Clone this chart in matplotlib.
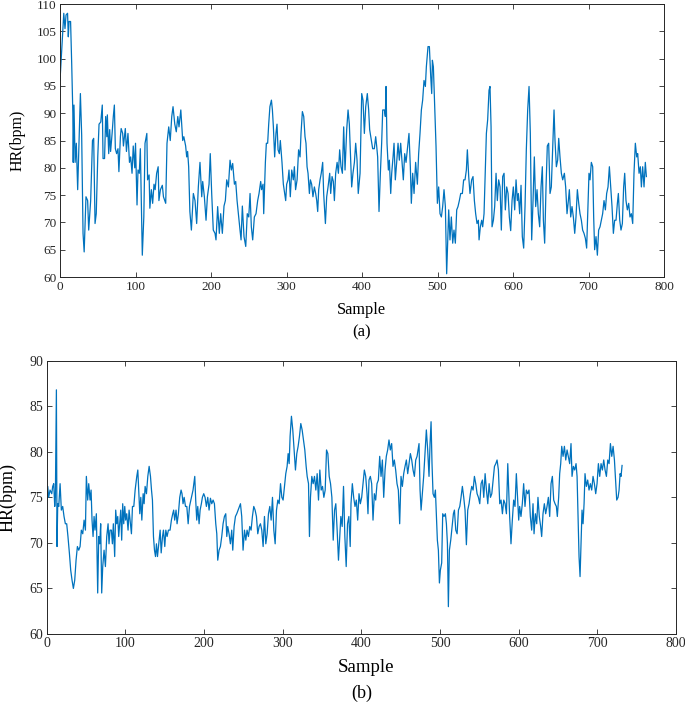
#!/usr/bin/env python3
"""
plot.py - HR series (a) and (b), MATLAB-like look
"""

import matplotlib
matplotlib.use('Agg')
import matplotlib.pyplot as plt

# ========== data ==========
# (a)
SAMPLE_A = [0, 5, 6.6, 8, 10, 11, 12, 14, 15.5, 17, 17.5, 18.5, 20, 21.6, 23.4, 25, 27, 28.7, 30.5, 32,
            34.4, 36.6, 38, 40.6, 43, 44.6, 46.4, 48, 50, 51.7, 54, 56, 57, 59, 60.5, 62, 62.7, 64.5, 65.8, 67,
            69, 70.6, 72, 73.3, 75, 76.8, 78, 80, 81, 83, 84, 86.5, 88, 90, 92, 93.6, 95.4, 97, 99, 100,
            102, 103.3, 105, 106.4, 109, 111, 112.6, 115, 116, 118, 119, 121, 122.7, 124.5, 126, 128, 130, 131, 133, 135.5,
            137, 140, 141.7, 144, 146, 148, 149.7, 152, 154, 156, 157.6, 160, 162.5, 164, 166.4, 167.8, 169, 170.4, 172, 174,
            176.6, 178.8, 181, 183.2, 185.4, 187.7, 189, 191.2, 193.4, 195.2, 197.4, 199, 200.9, 203, 205.3, 206.6, 208.8, 211, 212.8, 215,
            217.2, 219, 220.8, 223, 225.2, 227, 228.7, 231, 232.7, 234.5, 236.2, 238.4, 239.8, 241.5, 243.7, 246, 248, 250, 251.7, 253.4,
            255.2, 257.4, 259.6, 261.8, 263.6, 265.8, 267, 268.9, 269.8, 272, 273.3, 275, 276.4, 278, 280, 281.3, 282.6, 284.3, 286, 287.4,
            288.8, 290.5, 291.8, 294, 295.8, 297.6, 298.9, 300.2, 302, 303.3, 305, 306.9, 309, 310.4, 312, 314, 316, 317.9, 319.2, 321,
            322.8, 324.5, 325.8, 327.2, 328.5, 330.3, 331.6, 333.3, 335, 336.9, 338.6, 340, 341.3, 342.6, 344.4, 346, 347.9, 349.2, 351.5, 353.2,
            355, 357.2, 358.5, 360.3, 362, 363.4, 365.1, 367, 368.7, 370.4, 372.2, 374, 375.7, 377.5, 379.7, 381.5, 383.2, 384.6, 386.3, 388,
            389.9, 391.6, 393.4, 395, 397.4, 399.6, 401.3, 403.1, 404.9, 407, 408.8, 410.1, 412.4, 414.1, 416.3, 418.1, 419.4, 420.7, 422.5, 424.3,
            426, 427.4, 429.6, 430.9, 431.8, 433.1, 434.9, 436.2, 438, 439.3, 441.1, 442.4, 444.1, 445.9, 447.7, 449.4, 451.2, 453, 454.7, 456.5,
            458.3, 460.5, 462.2, 464, 465.3, 467.1, 468.9, 471, 473.3, 475, 476.8, 478.6, 480.3, 482.1, 483.9, 485.2, 487.4, 489.2, 491, 492.3,
            493.2, 494.5, 496.2, 498, 499.8, 501.5, 503.3, 505.1, 506.8, 508.6, 510.4, 512.1, 513.5, 514.8, 516.5, 518.3, 520.1, 521.8, 523.6, 525.4,
            527.1, 528.9, 530.7, 532.9, 534.6, 536.4, 538.2, 539.5, 541.3, 543, 545.2, 547, 548.8, 550.5, 552.3, 554.1, 555, 556.7, 558.5, 559.8,
            561.6, 562.9, 564.7, 566.4, 568.2, 569.5, 570.9, 572.2, 574, 575.7, 577.5, 579.2, 581, 582.8, 584.5, 586.3, 588.1, 589.8, 591.6, 593.4,
            595.1, 596.9, 598.7, 600.4, 602.2, 604, 605.7, 607, 608.8, 610.6, 612.3, 614.1, 615.9, 617.6, 619.4, 621.2, 622.9, 624.7, 626.5, 628.2,
            630, 631.8, 633.5, 635.3, 637.1, 638.8, 640.2, 641.9, 643.7, 645.4, 647.2, 649, 650.7, 652.5, 654.3, 655.6, 657.4, 659.1, 660.5, 662.2,
            664, 665.8, 668, 669.7, 671.5, 673.3, 674.6, 676.4, 678.1, 679.9, 681.7, 683.4, 685.2, 687, 688.7, 690.5, 692.2, 694, 695.8, 697.5,
            699.3, 700.6, 702, 703.7, 705.5, 706.8, 708.1, 709.9, 711.7, 713.4, 715.2, 717, 718.7, 720.5, 722.3, 724, 725.8, 727.6, 729.3, 731.1,
            732.9, 734.6, 736.4, 738.2, 739.5, 741.3, 743, 744.8, 746.5, 747.9, 749.6, 751.4, 753.2, 754.9, 756.7, 758.5, 760.2, 762, 763.8, 765.1,
            766.9, 768.6, 770, 771.7, 773.5, 775.2, 776.6]
HR_A = [96, 108.3, 105.5, 108, 108.3, 104, 106.8, 106.8, 99, 90, 81, 91.5, 81, 84.5, 76, 84, 93.6, 86, 68, 64.6,
        74.7, 74, 68.6, 74, 85, 85.4, 69.8, 71.6, 82, 88, 88.4, 91.5, 81.7, 81.7, 89.4, 85.7, 89.7, 82.6, 87, 83,
        86.3, 89.4, 91.5, 83.5, 82.6, 83.5, 79.3, 85.7, 87.2, 86.3, 84, 87.2, 83, 86.3, 81, 82, 79, 84, 80, 84.5,
        73.2, 79.6, 79, 83.5, 64, 71, 84.5, 86.3, 77.8, 78.7, 72.6, 76, 73.5, 77, 76, 79, 80.2, 74, 76, 76.8,
        74.7, 73.5, 84.5, 87.5, 85, 89.4, 91.2, 88, 86.6, 89.4, 87.5, 90.6, 85, 85.7, 84, 82, 83, 80.2, 72, 68.6,
        75.3, 74, 69.8, 76.5, 81, 74.7, 77.5, 74.7, 70.4, 74.7, 77, 82.6, 75.3, 68.6, 68, 66.8, 72.9, 68, 71.6, 68,
        73, 74, 77.8, 76.5, 81.4, 79.6, 80.8, 77, 77.5, 74, 71.6, 68.6, 66.8, 73, 67.4, 65.6, 71.6, 71, 75.3, 69.2,
        66.8, 71, 71.6, 74, 75.3, 77.5, 76, 77, 71.6, 81, 84.5, 84.5, 88, 91.2, 92.4, 90.6, 87.5, 82, 86.3, 88,
        83.3, 82.6, 85, 81, 77, 75.3, 74, 77, 77.8, 79.6, 74.7, 79.6, 77.8, 80.2, 76, 77.8, 83.3, 82, 86.3, 90.3,
        89.4, 85.7, 84.5, 80.2, 79, 75.3, 77.8, 77, 74.7, 76.5, 75.3, 74, 72, 76, 77.8, 79, 81, 75.3, 69.8, 74.7,
        76.5, 79, 75.3, 78.4, 77.5, 74, 79, 81, 79, 83.3, 80.2, 79, 87.5, 79.6, 87, 90.6, 88, 82.6, 76.5, 79,
        81, 84.5, 81.4, 75.3, 79, 93.6, 92.4, 86.3, 91.2, 93.6, 90.6, 87, 85, 83.5, 83.5, 85.7, 84, 82, 72, 79,
        84.5, 90.6, 90.6, 89.4, 94.9, 84.5, 79.6, 81.4, 75.3, 79, 82, 84.5, 77.8, 81, 84.5, 81.4, 84.5, 81, 77.8, 82.6,
        81, 84, 86.3, 80.2, 73.5, 79, 75.3, 81, 77, 82.6, 86.3, 90.6, 92.4, 96, 94.9, 98.5, 102.2, 102.2, 96.7, 93.6,
        99.7, 98.5, 91.2, 84, 73.5, 76.5, 71.6, 71, 72.9, 76, 72.9, 60.6, 66.8, 72.3, 66.8, 71, 66.2, 68.6, 66.2, 72.3,
        72.9, 74, 75.3, 75.3, 77.8, 77.8, 79.6, 83.3, 78.4, 75.3, 77.8, 78.4, 74, 71.6, 69.8, 70.4, 66.8, 69.2, 70.4, 69.2,
        71.6, 77.8, 86.3, 88.8, 94.2, 94.9, 87.5, 69.2, 70.4, 72.9, 79, 74, 77.8, 76.5, 68.6, 78.4, 79, 72.3, 76.5, 75.3,
        71, 68.5, 74, 76.5, 72.3, 77.8, 74, 75.3, 71.6, 76.8, 67.4, 65.3, 73, 83.3, 90.6, 94.9, 86.3, 66.8, 74, 82,
        72.9, 76, 71.6, 69.2, 76.5, 80.2, 70.4, 66.2, 76.5, 84, 84.5, 75.3, 76.5, 83.3, 90.6, 85, 80.2, 81.4, 85.4, 82,
        79, 77.8, 79, 76.5, 71.6, 74, 76, 71, 72.9, 71, 68, 71, 76, 73.5, 71.6, 70.4, 68.6, 68, 67.1, 65.3,
        73, 79, 77.8, 81, 80.2, 71, 65, 67.4, 64, 68.6, 69.2, 70.4, 71.6, 74, 72.3, 75.3, 76.5, 80.2, 76.5, 72.9,
        68, 70.4, 70.4, 73.5, 75.3, 70.4, 68.6, 69.8, 76.5, 79, 74, 72.3, 73.5, 71, 71.6, 69.8, 79, 84.5, 82, 82.6,
        79, 80.2, 76.5, 80.2, 76.5, 81, 78.4]

# (b)
SAMPLE_B = [0, 1.3, 2.5, 4.2, 6.4, 7.6, 8.9, 10.2, 11, 12.3, 13.1, 14, 15.3, 17, 18.6, 20.3, 22, 23.7, 25.4, 27,
            28.8, 30.5, 32.2, 33.9, 35.6, 37.3, 39, 40.7, 42.4, 44, 45.8, 47.5, 49.2, 50.4, 52.1, 53.4, 55.1, 56.4, 57.6, 58.9,
            60.2, 61.4, 63.1, 64.8, 66.1, 67.4, 68.6, 69.9, 71.2, 72.9, 74.6, 76.3, 78, 79.2, 80.5, 82.2, 83.5, 84.7, 86.4, 87.7,
            89, 90.3, 91.5, 92.8, 94.1, 95.3, 96.6, 97.9, 99.2, 100.4, 101.7, 103.4, 104.7, 106, 107.7, 109, 110.7, 112.4, 114.5, 115.8,
            117, 118.3, 119.6, 120.9, 122.6, 123.8, 125.1, 126.8, 128.5, 130.2, 131.9, 133.2, 134.4, 135.7, 137, 138.3, 139.5, 140.8, 142.5, 144.2,
            145.5, 147.2, 148.4, 150.1, 151.4, 153, 154.7, 156.8, 158.5, 160.2, 161.4, 162.7, 164.4, 165.7, 167.4, 169.1, 170.8, 172, 173.3, 174.7,
            176.4, 178.1, 179.8, 181.5, 184, 186, 188.2, 189.4, 190.7, 192, 193.7, 195, 196.6, 197.9, 199.6, 201.3, 203, 204.7, 206.4, 208.1,
            209.8, 211.5, 213.2, 214.9, 216.2, 217.4, 219.1, 220.8, 222.5, 224.2, 225.9, 227.6, 228.9, 230.1, 231.8, 233.5, 235.2, 236.5, 238.2, 239.9,
            241.6, 243.3, 245, 246.3, 247.9, 249.6, 251.4, 253.1, 254.7, 256.4, 258.1, 259.8, 261.5, 263.2, 264.9, 266.6, 268.3, 270, 271.7, 273.4,
            275.1, 276.8, 278.5, 280.2, 281.9, 283.6, 285.3, 287, 288.7, 290.4, 292.1, 293.8, 295.5, 297.2, 298.9, 300.5, 302.2, 303.9, 305.6, 306.9,
            308.2, 309.4, 311.1, 312.8, 314.5, 316.2, 317.9, 319.6, 321.3, 323, 324.7, 326.4, 328.1, 329.8, 331.1, 332.8, 334, 335.3, 337, 338.7,
            340.4, 342.1, 343.8, 345.5, 347.2, 348.9, 350.6, 352.3, 354, 355.7, 357.4, 359.1, 360.8, 362.5, 364.2, 365.9, 367.5, 369.2, 370.9, 372.6,
            373.9, 375.6, 377.3, 379, 380.7, 382.4, 384.1, 385.8, 386.8, 388.5, 390.2, 391.9, 393.6, 395.3, 397, 398.7, 400.4, 402.1, 403.8, 405.5,
            407.2, 408.4, 409.7, 411.4, 413.1, 414.8, 416.5, 418.2, 419.9, 421.6, 423.3, 425, 426.7, 428.4, 430.1, 431.7, 433.4, 435.1, 436.8, 438.5,
            440.2, 441.9, 443.6, 445.3, 447, 448.7, 450.4, 452.1, 453.8, 455.5, 457.2, 458.9, 460.6, 462.3, 464, 465.7, 467.4, 469.1, 470.8, 472,
            473.3, 474.6, 475.9, 477.5, 479.2, 480.9, 482.6, 484.3, 486, 487.3, 488.6, 489.8, 491.1, 492.8, 494.1, 495.4, 496.6, 497.9, 499.2, 500.4,
            502.1, 503.4, 505.1, 506.8, 508.1, 509.4, 510.6, 511.9, 513.6, 515.3, 517, 518.3, 520, 521.7, 523.4, 525.1, 526.7, 528.4, 530.1, 531.8,
            533.5, 535.2, 536.9, 538.6, 540.3, 542, 543.7, 545.4, 547.1, 548.8, 550.5, 552.2, 553.9, 555.6, 557.3, 559, 560.7, 562.4, 564.1, 565.8,
            567.5, 569.2, 570.9, 572.5, 574.2, 575.9, 577.6, 579.3, 581, 582.7, 584.4, 586.1, 588.5, 590.2, 591.9, 593.6, 595.3, 597, 598.7, 600,
            601.2, 602.9, 604.6, 606.3, 608, 609.7, 611.4, 613.1, 614.8, 616.5, 618.2, 619.5, 621.2, 622.9, 624.5, 626.2, 627.9, 629.2, 630.9, 632.6,
            634.3, 636, 637.7, 639.4, 641.1, 642.8, 644.5, 646.2, 647.9, 649.1, 650.8, 652.1, 653.4, 654.7, 656.4, 658.1, 659.8, 661.5, 663.1, 664.8,
            666.5, 667.8, 669.5, 671.2, 672.9, 674.2, 675.4, 676.7, 678, 679.3, 680.5, 681.8, 683.1, 684.3, 686, 687.7, 689.4, 691.1, 692.8, 694.5,
            696.2, 697.9, 699.6, 701.3, 703, 704.7, 706.4, 708.1, 709.8, 711.5, 713.2, 714.9, 716.6, 718.3, 720, 721.7, 723.4, 724.6, 726.3, 727.6,
            728.9, 730.1, 731.4]
HR_B = [74.3, 76.2, 75, 75.8, 75.4, 76.2, 76.5, 74, 75, 86.8, 69.6, 74.3, 74, 76.5, 73.6, 74, 72.9, 72.1, 72.1, 70.7,
        68.9, 67, 65.9, 65, 65.9, 68.1, 69.6, 69.2, 69.6, 71.4, 71, 72.5, 71.4, 77.3, 74.7, 76.5, 74.7, 75.8, 72.5, 70.7,
        72.9, 71.4, 73.2, 64.5, 70.7, 69.9, 72.1, 64.5, 67.4, 69.2, 67.4, 70.7, 72.1, 69.9, 71.4, 71.4, 69.9, 72.1, 68.5, 73.6,
        72.1, 72.9, 70.7, 72.1, 73.6, 70.3, 74.3, 72.1, 74, 72.5, 73.2, 71.4, 73.6, 72.5, 71, 74, 74, 75.8, 77.3, 78,
        75.8, 73.2, 75, 72.5, 75.4, 74.3, 76.2, 75.4, 77.3, 78.4, 77.3, 75.8, 74.7, 70.7, 69.2, 68.5, 69.9, 68.5, 69.9, 71.4,
        68.9, 70.7, 71.4, 69.6, 71.4, 70.7, 71.4, 71.4, 72.5, 73.2, 73.6, 72.5, 73.6, 72.1, 73.2, 75, 75.8, 75.4, 74.3, 75,
        74, 74, 72.1, 74, 75, 75.8, 77.3, 74.7, 72.5, 74, 72.1, 73.6, 74.3, 75, 75.4, 75, 74, 75, 73.6, 74.9,
        74.3, 74.7, 74.3, 72.1, 71, 68.1, 69.2, 69.6, 70.7, 72.1, 72.9, 73.2, 70.7, 71.8, 71, 69.9, 71.4, 69.2, 71.8, 72.9,
        73.2, 73.6, 74, 74.3, 72.9, 69.2, 71.4, 70.3, 71.4, 70.7, 71.8, 71.4, 72.9, 74, 73.6, 72.9, 71, 71.8, 72.1, 71.4,
        69.6, 72.9, 69.9, 71, 73.2, 74, 72.5, 75, 71.4, 69.9, 73.6, 74.7, 74.3, 76.5, 75, 74.7, 76.2, 77.6, 78.4, 79.8,
        78.7, 81.7, 83.9, 82.4, 80.2, 78, 79.8, 80.6, 81.7, 83.1, 82.4, 81.3, 80.2, 78.4, 77.3, 76.5, 70.7, 75, 77.3, 76.5,
        77.3, 75.8, 77.6, 74.7, 78, 75.8, 76.2, 75, 75.8, 80.2, 79.8, 77.3, 76.5, 75, 70.3, 73.6, 74.3, 71.4, 68.1, 70.7,
        72.9, 71.8, 76.2, 70.7, 67.4, 72.1, 72.9, 69.6, 74.3, 76.5, 75, 74, 74.7, 72.5, 75.4, 74.3, 75, 76.5, 78, 77.3,
        75.4, 73.2, 76.9, 77.3, 76.5, 72.5, 75.4, 74.7, 76.5, 76.9, 79.5, 77.3, 79.1, 75, 78, 79.5, 80.2, 81.3, 80.2, 80.9,
        78.4, 79.1, 78, 76.5, 75.8, 72.1, 77.3, 76.2, 77.6, 78.4, 79.1, 77.6, 78.7, 79.8, 79.1, 78, 77.3, 79.1, 79.5, 80.2,
        80.9, 75.8, 73.6, 75.4, 77.3, 79.8, 82.4, 80.2, 77.3, 80.9, 83.3, 78.7, 75.4, 75, 75.8, 72.9, 70.3, 69.2, 65.6, 67,
        67.8, 73.2, 72.9, 73.2, 72.1, 69.9, 63, 69.2, 70.3, 71.8, 73.2, 73.6, 71.4, 71, 73.6, 74, 75, 76.2, 75, 73.6,
        69.8, 73.6, 74.3, 75.4, 76.2, 75.8, 77.3, 76.5, 75.4, 75, 74.3, 76.5, 76.9, 75, 77.6, 75.8, 74.3, 76.5, 75, 75.4,
        76.9, 78.4, 78.7, 79.1, 78, 74.3, 74.7, 73.2, 74.7, 74.3, 73.2, 78.7, 72.9, 69.9, 72.5, 74.7, 74, 77.6, 74.7, 72.5,
        74, 72.9, 74.3, 76.5, 74, 75.8, 75.4, 75.8, 72.9, 71.4, 74.3, 71, 73.2, 72.1, 75, 72.9, 71.8, 70.7, 73.2, 74.3,
        73.2, 74, 75, 72.9, 76.5, 77.3, 74.7, 74.3, 74, 72.9, 75, 77.6, 78.7, 80.6, 79.5, 80.6, 79.1, 80.2, 79.5, 78.7,
        80.9, 77.3, 78.4, 78, 78.7, 77.3, 72.9, 68.5, 66.3, 69.9, 73.6, 72.1, 74.3, 77.6, 76.2, 76.9, 75.8, 76.5, 75.8, 77.3,
        76.5, 75.4, 76.5, 78.7, 77.3, 78.7, 78, 79.1, 78, 77.3, 79.1, 78.7, 80.9, 79.5, 80.6, 79.1, 76.5, 74.7, 75, 75.8,
        77.6, 77.3, 78.5]

X_TICKS = [0, 100, 200, 300, 400, 500, 600, 700, 800]
Y_TICKS_A = [60, 65, 70, 75, 80, 85, 90, 95, 100, 105, 110]
Y_TICKS_B = [60, 65, 70, 75, 80, 85, 90]

LINE_COLOR = '#0072BD'


def style_axis(ax, tick_size):
    ax.tick_params(direction='in', top=True, right=True, length=3.5, width=0.6,
                   labelsize=tick_size, colors='#262626', pad=2.5)
    for sp in ax.spines.values():
        sp.set_color('#262626')
        sp.set_linewidth(0.7)


def main():
    plt.rcParams.update({
        'font.family': 'serif',
        'font.serif': ['Liberation Serif', 'DejaVu Serif'],
        'mathtext.fontset': 'stix',
    })

    fig = plt.figure(figsize=(6.85, 7.06), dpi=100)

    # ---- (a) ----
    ax1 = fig.add_axes([0.0876, 0.6076, 0.8818, 0.3867])
    ax1.plot(SAMPLE_A, HR_A, color=LINE_COLOR, linewidth=0.9)
    ax1.set_xlim(0, 800)
    ax1.set_ylim(60, 110)
    ax1.set_xticks(X_TICKS)
    ax1.set_yticks(Y_TICKS_A)
    style_axis(ax1, 9.5)
    fig.text(0.0263, 1 - 140 / 706, 'HR(bpm)', rotation=90, ha='center', va='center', fontsize=11.5)
    fig.text(0.528, 1 - 310 / 706, 'Sample', ha='center', va='center', fontsize=11.7)
    fig.text(0.528, 1 - 332 / 706, '(a)', ha='center', va='center', fontsize=12)

    # ---- (b) ----
    ax2 = fig.add_axes([0.0682, 0.1020, 0.9187, 0.3871])
    ax2.plot(SAMPLE_B, HR_B, color=LINE_COLOR, linewidth=0.9)
    ax2.set_xlim(0, 800)
    ax2.set_ylim(60, 90)
    ax2.set_xticks(X_TICKS)
    ax2.set_yticks(Y_TICKS_B)
    style_axis(ax2, 10)
    fig.text(0.0117, 1 - 497 / 706, 'HR(bpm)', rotation=90, ha='center', va='center', fontsize=13)
    fig.text(0.535, 1 - 668 / 706, 'Sample', ha='center', va='center', fontsize=13.6)
    fig.text(0.528, 1 - 693 / 706, '(b)', ha='center', va='center', fontsize=13)

    fig.savefig('out.png', dpi=100)
    plt.close(fig)


if __name__ == "__main__":
    main()
